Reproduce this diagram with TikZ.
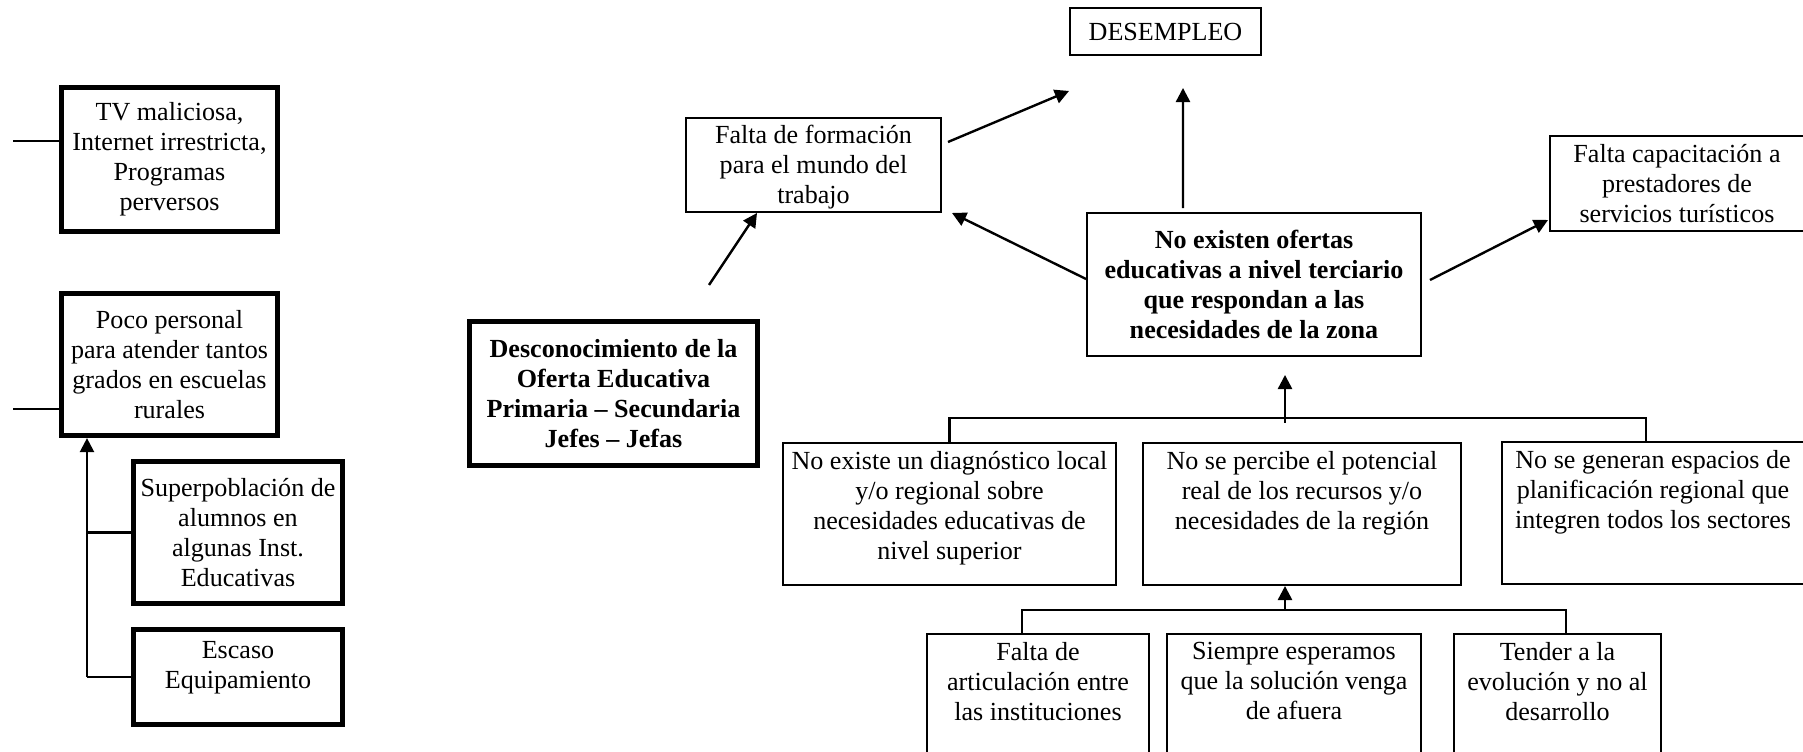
\documentclass[tikz,border=0pt]{standalone}
\usepackage{fontspec}
\setmainfont{Liberation Serif}
\usetikzlibrary{arrows.meta}

\newlength\px
\setlength\px{0.46pt}
% box text: [position]{width}{height}{lines}, sizes in pixels
\newcommand{\boxtxt}[4][c]{\parbox[c][#3\px][#1]{#2\px}{\centering
  \leftskip=-1em plus 1fil\rightskip=-1em plus 1fil #4}}
\newcommand{\toptxt}[3]{\boxtxt[t]{#1}{#2}{\vspace*{4pt}#3}}

\begin{document}
\begin{tikzpicture}[x=0.46pt,y=-0.46pt,
  every node/.style={font=\fontsize{12}{13.8}\selectfont, inner sep=0pt},
  box/.style={draw, line width=0.9pt},
  thickbox/.style={draw, line width=2.4pt},
  line/.style={line width=1.1pt},
  arr/.style={line width=1.1pt, -{Triangle[length=6.5pt,width=6.5pt]}}]
\useasboundingbox (0,0) rectangle (1803,752);
\clip (0,0) rectangle (1803,752);

% left column
\node[thickbox] (tv) at (169.5,159.5) {\boxtxt{216}{144}{TV maliciosa,\\Internet irrestricta,\\Programas\\perversos}};
\node[thickbox] (poco) at (169.5,364.5) {\boxtxt{216}{142}{Poco personal\\para atender tantos\\grados en escuelas\\rurales}};
\node[thickbox] (super) at (238,532.5) {\boxtxt{209}{142}{Superpoblación de\\alumnos en\\algunas Inst.\\Educativas}};
\node[thickbox] (escaso) at (238,677) {\boxtxt[t]{209}{95}{\vspace*{5.5pt}Escaso\\Equipamiento}};

\draw[line] (13,141) coordinate (tvin) -- (tvin -| tv.west);
\draw[line] (13,409) coordinate (pocoin) -- (pocoin -| poco.west);
\coordinate (trunk) at (87,677);
\draw[line] (escaso.west) -- (trunk);
\draw[line] (super.west) -- (super.west -| trunk);
\draw[arr] (trunk) -- (trunk |- poco.south);

% middle
\node[thickbox] (desc) at (613.5,393.5) {\boxtxt{288}{144}{\bfseries Desconocimiento de la\\Oferta Educativa\\Primaria – Secundaria\\Jefes – Jefas}};
\node[box] (falta) at (813.5,165) {\boxtxt[t]{255}{94}{\vspace*{3.5pt}Falta de formación\\para el mundo del\\trabajo}};
\node[box] (desem) at (1165.5,31.5) {\boxtxt{191}{47}{DESEMPLEO}};
\node[box] (noexist) at (1254,284.5) {\boxtxt{334}{143}{\bfseries No existen ofertas\\educativas a nivel terciario\\que respondan a las\\necesidades de la zona}};
\node[box] (capac) at (1677,183.5) {\toptxt{254}{95}{Falta capacitación a\\prestadores de\\servicios turísticos}};

\draw[arr] (709,285) coordinate (descup) -- ([shift={(-56.5,0)}]falta.south);
\draw[arr] ([shift={(6,-23)}]falta.east) -- ([shift={(0,35)}]desem.south west);
\draw[arr] ([shift={(-71,-4)}]noexist.north) -- ([shift={(17.5,32)}]desem.south);
\draw[arr] ([shift={(0,-5.5)}]noexist.west) -- ([shift={(10,0)}]falta.south east);
\draw[arr] ([shift={(8,-4.5)}]noexist.east) -- ([shift={(-1,-12)}]capac.south west);

% causes
\node[box] (diag) at (949.5,514) {\toptxt{333}{142}{No existe un diagnóstico local\\y/o regional sobre\\necesidades educativas de\\nivel superior}};
\node[box] (percibe) at (1302,514) {\toptxt{318}{142}{No se percibe el potencial\\real de los recursos y/o\\necesidades de la región}};
\node[box] (planif) at (1653,513) {\toptxt{302}{142}{No se generan espacios de\\planificación regional que\\integren todos los sectores}};

\draw[line] (diag.north) -- ++(0,-24) -| ([shift={(-7,0)}]planif.north);
\draw[arr] ([shift={(31,66)}]noexist.south) -- ([shift={(31,18)}]noexist.south);

\node[box] (artic) at (1038,706.5) {\toptxt{222}{145}{Falta de\\articulación entre\\las instituciones}};
\node[box] (afuera) at (1294,706.5) {\toptxt{254}{145}{Siempre esperamos\\que la solución venga\\de afuera}};
\node[box] (tender) at (1557.5,706.5) {\toptxt{207}{145}{Tender a la\\evolución y no al\\desarrollo}};

\draw[line] ([shift={(-16,0)}]artic.north) -- ++(0,-23) -| ([shift={(8.5,0)}]tender.north);
\draw[arr] ([shift={(-17,24)}]percibe.south) -- ([shift={(-17,0)}]percibe.south);
\end{tikzpicture}
\end{document}
